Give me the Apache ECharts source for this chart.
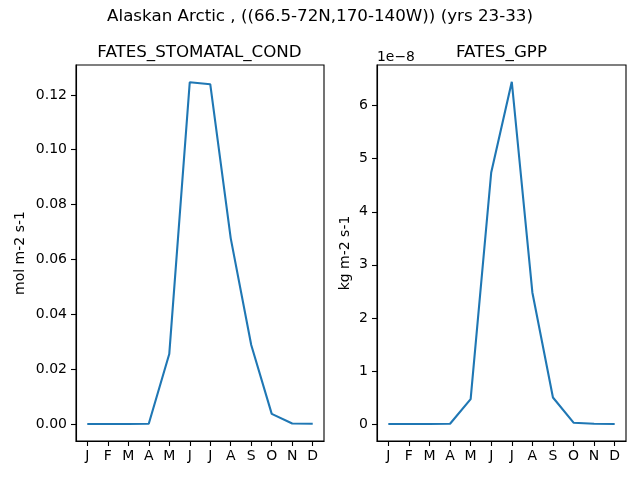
<!DOCTYPE html>
<html><head><meta charset="utf-8">
<script src="https://cdn.jsdelivr.net/npm/echarts@6/dist/echarts.min.js"></script>
<style>html,body{margin:0;padding:0;background:#fff}#c{width:640px;height:480px}</style>
</head><body><div id="c"></div>
<script>
const months = ['J','F','M','A','M','J','J','A','S','O','N','D'];
const stomatalCond = [0, 0, 0, 0.0001, 0.0255, 0.1246, 0.1239, 0.0677, 0.0288, 0.0037, 0.0002, 0.0001];
const gpp = [0, 0, 0, 0.005e-8, 0.47e-8, 4.74e-8, 6.45e-8, 2.48e-8, 0.50e-8, 0.025e-8, 0.005e-8, 0];
const leftTicks = [0, 0.02, 0.04, 0.06, 0.08, 0.10, 0.12];
const rightTicks = [0, 1e-8, 2e-8, 3e-8, 4e-8, 5e-8, 6e-8];
const monthIdx = months.map((m, i) => i);

const FONT = 'DejaVu Sans';
const tickStyle = {show: true, inside: false, length: 5, lineStyle: {color: '#000', width: 1.1}};
function xAxis(gi) {
  return {
    type: 'value', gridIndex: gi, min: -0.55, max: 11.55,
    axisLine: {show: true, onZero: false, lineStyle: {color: '#000', width: 1.1}}, splitLine: {show: false},
    axisTick: Object.assign({customValues: monthIdx}, tickStyle),
    axisLabel: {customValues: monthIdx, formatter: v => months[Math.round(v)], color: '#000', fontFamily: FONT, fontSize: 14, margin: 8}
  };
}
function yAxis(gi, min, max, ticks, fmt, name, gap) {
  return {
    type: 'value', gridIndex: gi, min: min, max: max,
    name: name, nameLocation: 'middle', nameGap: gap, nameTextStyle: {fontFamily: FONT, fontSize: 14, color: '#000'},
    axisLine: {show: true, onZero: false, lineStyle: {color: '#000', width: 1.1}}, splitLine: {show: false},
    axisTick: Object.assign({customValues: ticks}, tickStyle),
    axisLabel: {customValues: ticks, formatter: fmt, color: '#000', fontFamily: FONT, fontSize: 14, margin: 9}
  };
}
const txt = (t, x, y, align, size) => ({type: 'text', x: x, y: y, style: {text: t, fill: '#000', font: size + 'px "' + FONT + '"', textAlign: align, textVerticalAlign: 'middle'}});
const c = echarts.init(document.getElementById('c'), null, {renderer: 'canvas'});
c.setOption({
  animation: false,
  backgroundColor: '#fff',
  graphic: [
    txt('Alaskan Arctic , ((66.5-72N,170-140W)) (yrs 23-33)', 320, 16.7, 'center', 16.7),
    txt('FATES_STOMATAL_COND', 199.5, 52.2, 'center', 16.7),
    txt('FATES_GPP', 501.5, 52.2, 'center', 16.7),
    txt('1e\u22128', 377, 57.3, 'left', 13.9)
  ],
  grid: [
    {left: 76, top: 65, width: 248, height: 376, show: true, borderColor: '#000', borderWidth: 1.1, backgroundColor: 'transparent'},
    {left: 377, top: 65, width: 249, height: 376, show: true, borderColor: '#000', borderWidth: 1.1, backgroundColor: 'transparent'}
  ],
  xAxis: [xAxis(0), xAxis(1)],
  yAxis: [
    yAxis(0, -0.0062, 0.1309, leftTicks, v => v.toFixed(2), 'mol m-2 s-1', 49),
    yAxis(1, -0.32e-8, 6.766e-8, rightTicks, v => String(Math.round(v / 1e-8)), 'kg m-2 s-1', 25)
  ],
  series: [
    {type: 'line', xAxisIndex: 0, yAxisIndex: 0, showSymbol: false, symbol: 'none', lineStyle: {color: '#1f77b4', width: 2.1}, data: stomatalCond.map((v, i) => [i, v])},
    {type: 'line', xAxisIndex: 1, yAxisIndex: 1, showSymbol: false, symbol: 'none', lineStyle: {color: '#1f77b4', width: 2.1}, data: gpp.map((v, i) => [i, v])}
  ]
});
</script></body></html>
